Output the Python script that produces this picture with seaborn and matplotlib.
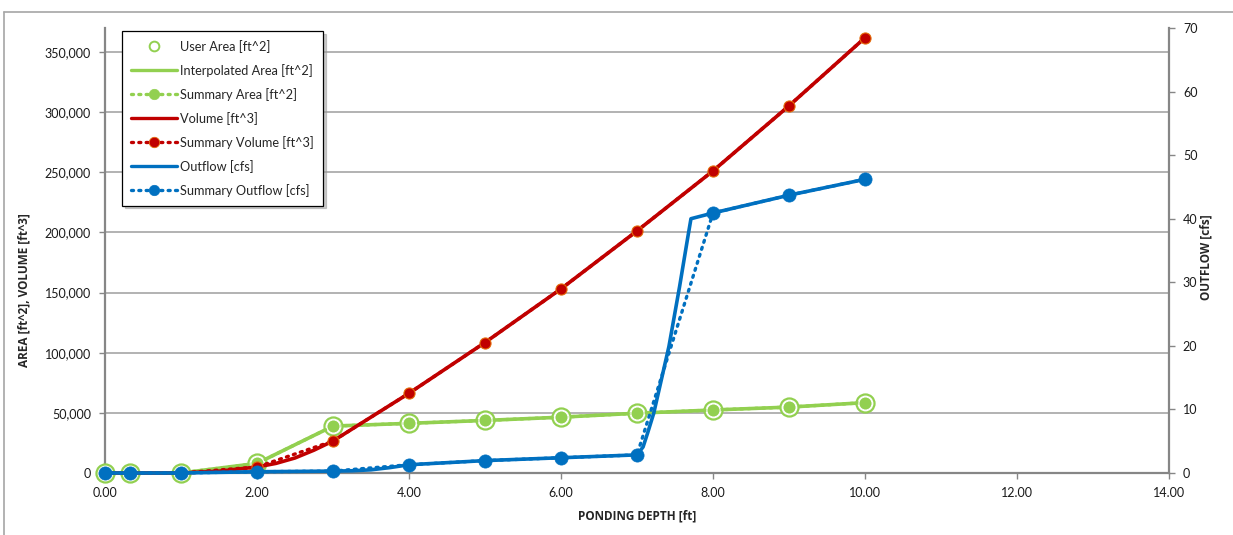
import matplotlib
matplotlib.use("Agg")
import matplotlib.pyplot as plt
from matplotlib.lines import Line2D
from matplotlib.ticker import FuncFormatter
import seaborn as sns

# ---------------- data ----------------
depth = [0, 0.33, 1, 2, 3, 4, 5, 6, 7, 8, 9, 10]
user_area = [0, 0, 0, 8000, 39000, 41300, 43700, 46400, 49700, 52400, 54800, 58500]
summary_area = [0, 0, 0, 8000, 39000, 41300, 43700, 46400, 49700, 52400, 54800, 58500]
summary_volume = [0, 0, 0, 5000, 26600, 66300, 108500, 153100, 201300, 251200, 305300, 361900]
summary_outflow = [0, 0, 0, 0.2, 0.3, 1.3, 1.95, 2.4, 2.85, 40.9, 43.7, 46.2]

interp_area_depth = [0, 0.33, 1, 2, 3, 4, 5, 6, 7, 8, 9, 10]
interp_area = [0, 0, 0, 8000, 39000, 41300, 43700, 46400, 49700, 52400, 54800, 58500]

volume_depth = [0, 0.33, 1, 1.5, 2, 2.25, 2.5, 2.75, 3, 4, 5, 6, 7, 8, 9, 10]
volume = [0, 0, 0, 1500, 5000, 8000, 12500, 19000, 26600, 66300, 108500,
          153100, 201300, 251200, 305300, 361900]

outflow_depth = [0, 0.33, 1, 2, 3, 3.25, 3.5, 3.75, 4, 5, 6, 7, 7.08, 7.14, 7.22,
                 7.42, 7.56, 7.67, 7.71, 8, 9, 10]
outflow = [0, 0, 0, 0.2, 0.3, 0.35, 0.5, 0.85, 1.3, 1.95, 2.4, 2.85, 4.1, 6.3, 9.4,
           19.9, 29.3, 37.2, 40.0, 40.9, 43.7, 46.2]

x_ticks = [0, 2, 4, 6, 8, 10, 12, 14]
left_ticks = [0, 50000, 100000, 150000, 200000, 250000, 300000, 350000]
right_ticks = [0, 10, 20, 30, 40, 50, 60, 70]

GREEN = "#92D050"
RED = "#C00000"
BLUE = "#0070C0"
SPINE = "#868686"
GRID = "#A6A6A6"

sns.set_theme(style="white")
plt.rcParams["font.family"] = ["Lato", "DejaVu Sans"]

fig = plt.figure(figsize=(12.33, 5.35), dpi=100)
ax = fig.add_axes([105 / 1233, 1 - 473 / 535, (1169 - 105) / 1233, (473 - 28) / 535])
ax2 = ax.twinx()

dot = (0, (0.6, 1.6))

# ---- area (primary axis) ----
sns.lineplot(x=interp_area_depth, y=interp_area, ax=ax, color=GREEN, linewidth=2.6,
             label="Interpolated Area [ft^2]", legend=False, sort=False, zorder=3,
             clip_on=False)
sns.lineplot(x=depth, y=user_area, ax=ax, color=GREEN, linestyle="none", marker="o",
             markersize=13, markerfacecolor="white", markeredgecolor=GREEN,
             markeredgewidth=1.6, label="User Area [ft^2]", legend=False, sort=False,
             zorder=4, clip_on=False)
sns.lineplot(x=depth, y=summary_area, ax=ax, color=GREEN, linewidth=2.4, linestyle=dot,
             dash_capstyle="round", marker="o", markersize=9.5, markerfacecolor=GREEN,
             markeredgecolor="white", markeredgewidth=0.8,
             label="Summary Area [ft^2]", legend=False, sort=False, zorder=5, clip_on=False)

# ---- volume (primary axis) ----
sns.lineplot(x=volume_depth, y=volume, ax=ax, color=RED, linewidth=2.6,
             label="Volume [ft^3]", legend=False, sort=False, zorder=6, clip_on=False)
sns.lineplot(x=depth, y=summary_volume, ax=ax, color=RED, linewidth=2.4, linestyle=dot,
             dash_capstyle="round", marker="o", markersize=8, markerfacecolor=RED,
             markeredgecolor="#E46C0A", markeredgewidth=0.8,
             label="Summary Volume [ft^3]", legend=False, sort=False, zorder=7, clip_on=False)

# ---- outflow (secondary axis) ----
sns.lineplot(x=outflow_depth, y=outflow, ax=ax2, color=BLUE, linewidth=2.6,
             label="Outflow [cfs]", legend=False, sort=False, zorder=3, clip_on=False)
sns.lineplot(x=depth, y=summary_outflow, ax=ax2, color=BLUE, linewidth=2.4, linestyle=dot,
             dash_capstyle="round", marker="o", markersize=9.5, markerfacecolor=BLUE,
             markeredgecolor=BLUE, markeredgewidth=0.5,
             label="Summary Outflow [cfs]", legend=False, sort=False, zorder=4, clip_on=False)

# ---- axes formatting ----
ax.set_xlim(0, 14)
ax.set_ylim(0, 370000)
ax2.set_ylim(0, 70)
ax.set_xticks(x_ticks)
ax.set_yticks(left_ticks)
ax2.set_yticks(right_ticks)
ax.xaxis.set_major_formatter(FuncFormatter(lambda v, p: f"{v:.2f}"))
ax.yaxis.set_major_formatter(FuncFormatter(lambda v, p: f"{int(v):,}"))
ax2.yaxis.set_major_formatter(FuncFormatter(lambda v, p: f"{int(v)}"))

ax.grid(axis="y", color=GRID, linewidth=1.2)
ax.grid(axis="x", visible=False)
ax2.grid(False)

for a in (ax, ax2):
    for s in a.spines.values():
        s.set_visible(False)
ax.spines["left"].set_visible(True)
ax.spines["bottom"].set_visible(True)
ax2.spines["right"].set_visible(True)
for s in (ax.spines["left"], ax.spines["bottom"], ax2.spines["right"]):
    s.set_color(SPINE)
    s.set_linewidth(1.6)
ax.spines["bottom"].set_zorder(2)

ax.tick_params(axis="both", which="major", direction="out", length=4, width=1,
               color=SPINE, labelsize=9, labelcolor="#1a1a1a", pad=6,
               left=True, bottom=True)
ax2.tick_params(axis="y", direction="out", length=4, width=1, color=SPINE,
                labelsize=9, labelcolor="#1a1a1a", pad=6, right=True)

lab_font = {"family": ["Open Sans", "DejaVu Sans"], "weight": "bold", "size": 8.5}
ax.set_xlabel("PONDING DEPTH [ft]", fontdict=lab_font)
ax.set_ylabel("AREA [ft^2], VOLUME [ft^3]", fontdict=lab_font)
ax2.set_ylabel("OUTFLOW [cfs]", fontdict=lab_font)
ax.xaxis.set_label_coords((637.5 - 105) / 1064, (473 - 509) / 445)
ax.yaxis.set_label_coords((31 - 105) / 1064, (473 - 290) / 445)
ax2.yaxis.set_label_coords((1199 - 105) / 1064, (473 - 257) / 445)

# ---- legend ----
def make_handle(color, solid, marker, msize, mface, medge, mew):
    return Line2D([], [], color=color,
                  linestyle=("-" if solid is True else (dot if solid == "dot" else "none")),
                  linewidth=2.4, marker=marker, markersize=msize,
                  markerfacecolor=mface, markeredgecolor=medge, markeredgewidth=mew,
                  dash_capstyle="round")

order = ["User Area [ft^2]", "Interpolated Area [ft^2]", "Summary Area [ft^2]",
         "Volume [ft^3]", "Summary Volume [ft^3]", "Outflow [cfs]", "Summary Outflow [cfs]"]
leg_handles = [
    make_handle(GREEN, None, "o", 7, "white", GREEN, 1.4),
    make_handle(GREEN, True, None, 0, GREEN, GREEN, 0),
    make_handle(GREEN, "dot", "o", 7.5, GREEN, GREEN, 0.5),
    make_handle(RED, True, None, 0, RED, RED, 0),
    make_handle(RED, "dot", "o", 7.5, RED, "#E46C0A", 0.6),
    make_handle(BLUE, True, None, 0, BLUE, BLUE, 0),
    make_handle(BLUE, "dot", "o", 7.5, BLUE, BLUE, 0.5),
]
leg = ax2.legend(leg_handles, order, loc="upper left",
                 bbox_to_anchor=((122 - 105) / 1064, (473 - 31) / 445),
                 borderaxespad=0, fontsize=9.2, handlelength=3.6, handletextpad=0.25,
                 labelspacing=0.86, borderpad=0.7, frameon=True, fancybox=False,
                 shadow={"color": "0.6", "alpha": 0.5, "ox": 2, "oy": -2})
leg.get_frame().set_edgecolor("black")
leg.get_frame().set_linewidth(0.9)
leg.set_zorder(20)

# ---- outer chart border (top and left edges visible) ----
fig.add_artist(Line2D([4 / 1233, 1], [1 - 12 / 535, 1 - 12 / 535], color="#A6A6A6", linewidth=1.2,
                      transform=fig.transFigure))
fig.add_artist(Line2D([4 / 1233, 4 / 1233], [0, 1 - 12 / 535], color="#A6A6A6", linewidth=1.2,
                      transform=fig.transFigure))

fig.savefig("out.png", dpi=100)
